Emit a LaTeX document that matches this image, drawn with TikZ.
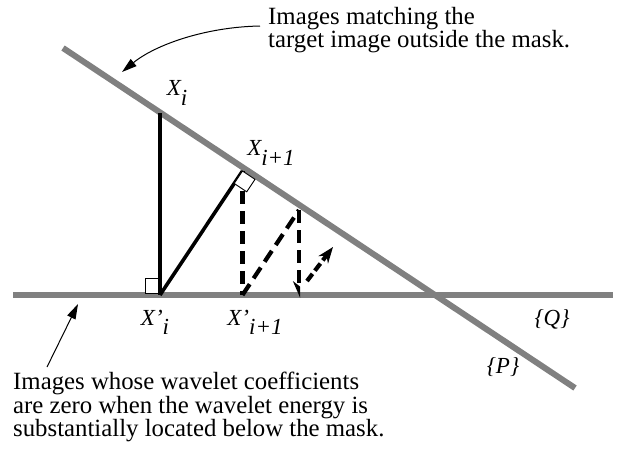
\documentclass[tikz,border=0pt]{standalone}
\usepackage{fontspec}
\setmainfont{Liberation Serif}
\usetikzlibrary{arrows.meta}
\definecolor{SetGray}{HTML}{808080}
\newcommand\lowsub[1]{\raisebox{-0.4em}{#1}}

\begin{document}
\begin{tikzpicture}[x=1pt, y=-1pt,
  setline/.style={SetGray, line width=6pt},
  proj/.style={black, line width=3.6pt},
  dproj/.style={black, line width=4.2pt, dash pattern=on 13pt off 7pt},
  rbox/.style={draw=black, fill=white, line width=0.9pt},
  lab/.style={font=\fontsize{23}{23}\selectfont\itshape, inner sep=0pt},
  note/.style={font=\fontsize{24.8}{20.5}\selectfont, align=left, anchor=west, inner sep=0pt},
  pointer/.style={black, line width=1pt, -{Triangle[length=15pt, width=9pt]}},
]
  \useasboundingbox (0,0) rectangle (617,450);

  % The two sets
  \coordinate (Pa) at (63,48);
  \coordinate (Pb) at (575,388);
  \coordinate (Qa) at (13,295);
  \coordinate (Qb) at (613,295);
  \draw[setline] (Pa) -- (Pb);
  \draw[setline] (Qa) -- (Qb);

  % Projection points
  \coordinate (xi) at (160,113);
  \coordinate (xpi) at (160,295);
  \coordinate (xj) at (242.5,171);
  \coordinate (xpj) at (242.5,295);
  \coordinate (xk) at (299,210);
  \coordinate (xpk) at (299,298);
  \coordinate (ma) at (307,281);
  \coordinate (mb) at (333,247);

  % Solid projections
  \draw[rbox] (145,278) rectangle (160,293);
  \draw[proj] (xi) -- (xpi);
  \draw[dproj] (xj) -- (xpj);
  \draw[proj] (xpi) -- (xj);
  \draw[rbox] (xj) -- ++(12.5,8.3) -- ++(-8.3,12.5) -- ++(-12.5,-8.3) -- cycle;

  % Dashed projections
  \draw[dproj] (xpj) -- (xk);
  \draw[dproj, -{Stealth[harpoon, swap, length=14pt, width=12pt]}] (xk) -- (xpk);
  \draw[dproj, dash pattern=on 9pt off 4pt, -{Stealth[length=16pt, width=12pt]}] (ma) -- (mb);

  % Labels
  \node[lab] (lxi) at (177,93) {X\lowsub{i}};
  \node[lab] (lxj) at (271,153) {X\lowsub{i+1}};
  \node[lab] (lxpi) at (155,322) {X’\lowsub{i}};
  \node[lab] (lxpj) at (255,322) {X’\lowsub{i+1}};
  \node[lab] (lq) at (552,319) {\{Q\}};
  \node[lab] (lp) at (503,367) {\{P\}};

  % Notes
  \node[note] (topnote) at (268,30) {Images matching the\\target image outside the mask.};
  \node[note] (botnote) at (13,407) {Images whose wavelet coefficients\\are zero when the wavelet energy is\\substantially located below the mask.};

  \coordinate (tcur) at (260,26);
  \coordinate (hcur) at (122,72);
  \draw[pointer] (tcur) .. controls (205,27) and (155,45) .. (hcur);
  \coordinate (tbot) at (47,367);
  \coordinate (hbot) at (78,304);
  \draw[pointer] (tbot) -- (hbot);
\end{tikzpicture}
\end{document}
